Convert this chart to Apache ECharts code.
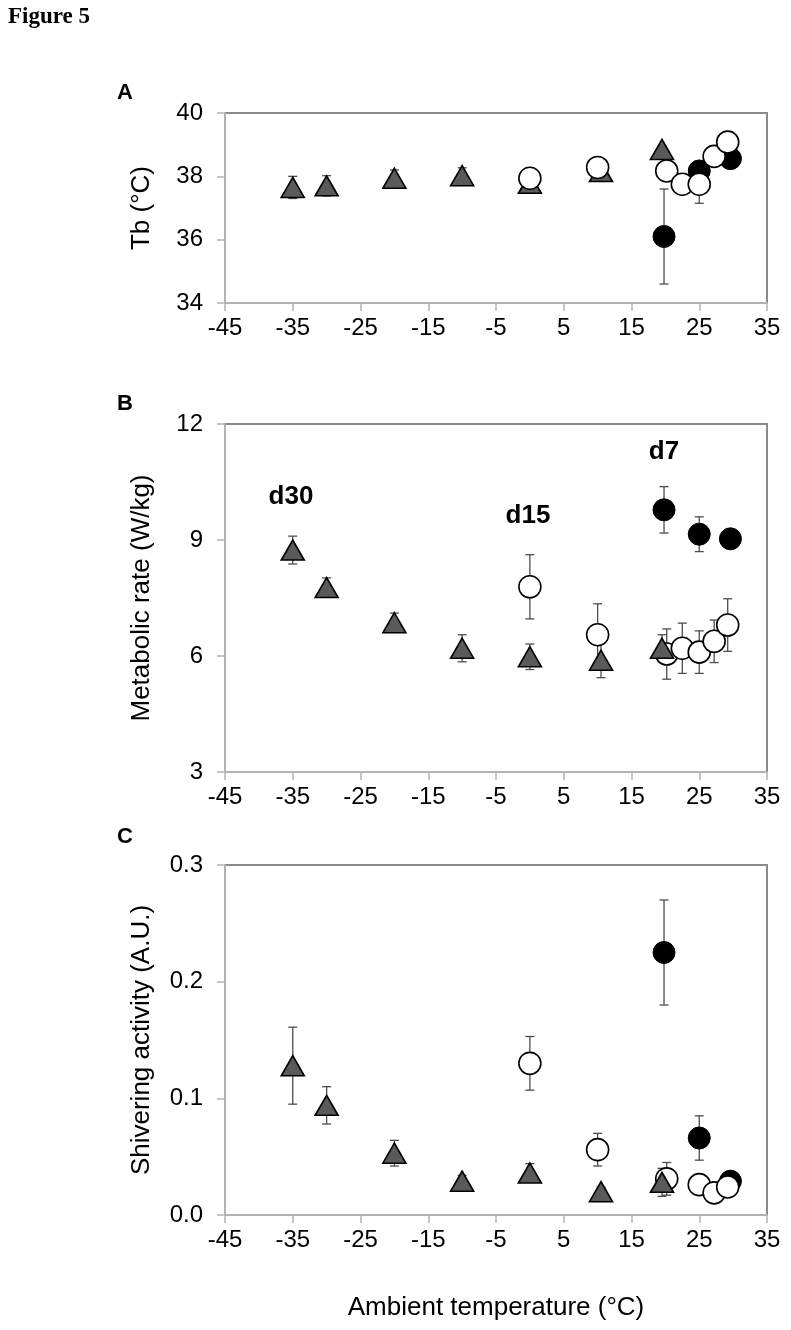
<!DOCTYPE html>
<html>
<head>
<meta charset="utf-8">
<script src="https://cdn.jsdelivr.net/npm/echarts@6/dist/echarts.min.js"></script>
<style>
html,body{margin:0;padding:0;background:#fff;}
#chart{width:791px;height:1330px;}
</style>
</head>
<body>
<div id="chart"></div>
<script>
// ---- data ----
var xTicks = [-45, -35, -25, -15, -5, 5, 15, 25, 35];
var d30Temp = [-35, -30, -20, -10, 0, 10.5, 19.5];
var d15Temp = [0, 10, 20.2, 22.5, 25, 27.2, 29.2];
var d7Temp  = [19.8, 25, 29.6];

// Panel A: body temperature (°C)
var tbD30 = [37.65, 37.70, 37.94, 38.02, 37.78, 38.15, 38.85];
var tbD30Err = [0.35, 0.32, 0.26, 0.25, 0.20, 0.15, 0.10];
var tbD15 = [37.94, 38.28, 38.17, 37.75, 37.75, 38.63, 39.08];
var tbD15Err = [0.10, 0.10, 0.15, 0.15, 0.60, 0.15, 0.10];
var tbD7 = [36.10, 38.17, 38.56];
var tbD7Err = [1.50, 0.15, 0.15];

// Panel B: metabolic rate (W/kg)
var mrD30 = [8.74, 7.77, 6.86, 6.20, 5.98, 5.89, 6.20];
var mrD30Err = [0.36, 0.25, 0.25, 0.35, 0.33, 0.45, 0.35];
var mrD15 = [7.79, 6.55, 6.05, 6.20, 6.10, 6.38, 6.80];
var mrD15Err = [0.83, 0.80, 0.65, 0.65, 0.55, 0.55, 0.68];
var mrD7 = [9.78, 9.15, 9.03];
var mrD7Err = [0.60, 0.45, 0.10];

// Panel C: shivering activity (A.U.)
var shD30 = [0.128, 0.094, 0.053, 0.029, 0.036, 0.020, 0.028];
var shD30Err = [0.033, 0.016, 0.011, 0.005, 0.008, 0.004, 0.012];
var shD15 = [0.130, 0.056, 0.031, null, 0.026, 0.019, 0.024];
var shD15Err = [0.023, 0.014, 0.014, null, 0.005, 0.004, 0.004];
var shD7 = [0.225, 0.066, 0.029];
var shD7Err = [0.045, 0.019, 0.003];

// ---- helpers ----
var FONT = '"Liberation Sans", Arial, sans-serif';
function pts(xs, ys) {
  var out = [];
  for (var i = 0; i < xs.length; i++) if (ys[i] != null) out.push([xs[i], ys[i]]);
  return out;
}
function errs(xs, ys, es) {
  var out = [];
  for (var i = 0; i < xs.length; i++) if (ys[i] != null && es[i] != null) out.push([xs[i], ys[i] - es[i], ys[i] + es[i]]);
  return out;
}
function errSeries(idx, data, z) {
  return {
    type: 'custom', xAxisIndex: idx, yAxisIndex: idx, z: z, silent: true,
    data: data,
    encode: {x: 0, y: [1, 2]},
    renderItem: function (params, api) {
      var x = api.value(0);
      var lo = api.coord([x, api.value(1)]);
      var hi = api.coord([x, api.value(2)]);
      var w = 4.5;
      var st = {stroke: '#4d4d4d', lineWidth: 1.3};
      return {type: 'group', children: [
        {type: 'line', shape: {x1: lo[0], y1: lo[1], x2: hi[0], y2: hi[1]}, style: st},
        {type: 'line', shape: {x1: lo[0] - w, y1: lo[1], x2: lo[0] + w, y2: lo[1]}, style: st},
        {type: 'line', shape: {x1: hi[0] - w, y1: hi[1], x2: hi[0] + w, y2: hi[1]}, style: st}
      ]};
    }
  };
}
var triStyle = {color: '#5a5a5a', borderColor: '#000', borderWidth: 1.6, opacity: 1};
var openStyle = {color: '#fff', borderColor: '#000', borderWidth: 1.6, opacity: 1};
var fillStyle = {color: '#000', borderColor: '#000', borderWidth: 1, opacity: 1};
function tri(idx, data, z) {
  return {type: 'scatter', xAxisIndex: idx, yAxisIndex: idx, z: z, symbol: 'triangle', symbolSize: [23, 20], itemStyle: triStyle, data: data};
}
function circ(idx, data, z, style) {
  return {type: 'scatter', xAxisIndex: idx, yAxisIndex: idx, z: z, symbol: 'circle', symbolSize: 22, itemStyle: style, data: data};
}

var grids = [
  {left: 225, right: 24, top: 113, height: 190},
  {left: 225, right: 24, top: 424, height: 348},
  {left: 225, right: 24, top: 865, height: 350}
];
grids.forEach(function (g) { g.show = true; g.borderColor = '#8a8a8a'; g.borderWidth = 2; g.backgroundColor = 'transparent'; });

function xAxis(idx, withName) {
  var a = {
    type: 'value', gridIndex: idx, min: xTicks[0], max: xTicks[xTicks.length - 1], interval: 10,
    axisLine: {show: true, onZero: false, lineStyle: {color: '#b3b3b3', width: 2}},
    axisTick: {show: true, length: 8, lineStyle: {color: '#b3b3b3', width: 1.5}},
    splitLine: {show: false},
    axisLabel: {color: '#000', fontFamily: FONT, fontSize: 24, margin: 13}
  };
  if (withName) {
    a.name = 'Ambient temperature (°C)';
    a.nameLocation = 'middle';
    a.nameGap = 80;
    a.nameTextStyle = {color: '#000', fontFamily: FONT, fontSize: 26};
  }
  return a;
}
function yAxis(idx, min, max, interval, name, fmt) {
  return {
    type: 'value', gridIndex: idx, min: min, max: max, interval: interval,
    name: name, nameLocation: 'middle', nameRotate: 90, nameGap: 70,
    nameTextStyle: {color: '#000', fontFamily: FONT, fontSize: 26},
    axisLine: {show: true, onZero: false, lineStyle: {color: '#b3b3b3', width: 2}},
    axisTick: {show: true, length: 8, lineStyle: {color: '#b3b3b3', width: 1.5}},
    splitLine: {show: false},
    axisLabel: {color: '#000', fontFamily: FONT, fontSize: 24, margin: 22, formatter: fmt}
  };
}

var option = {
  backgroundColor: '#fff',
  animation: false,
  grid: grids,
  xAxis: [xAxis(0, false), xAxis(1, false), xAxis(2, true)],
  yAxis: [
    yAxis(0, 34, 40, 2, 'Tb (°C)'),
    yAxis(1, 3, 12, 3, 'Metabolic rate (W/kg)'),
    yAxis(2, 0, 0.3, 0.1, 'Shivering activity (A.U.)', function (v) { return v.toFixed(1); })
  ],
  graphic: [
    {type: 'text', left: 8, top: 6, style: {text: 'Figure 5', font: 'bold 23px "Liberation Serif", "Times New Roman", serif', fill: '#000'}},
    {type: 'text', left: 117, top: 82, style: {text: 'A', font: 'bold 22px ' + FONT, fill: '#000'}},
    {type: 'text', left: 117, top: 393, style: {text: 'B', font: 'bold 22px ' + FONT, fill: '#000'}},
    {type: 'text', left: 117, top: 826, style: {text: 'C', font: 'bold 22px ' + FONT, fill: '#000'}},
    {type: 'text', x: 291, y: 497, style: {text: 'd30', font: 'bold 26px ' + FONT, fill: '#000', align: 'center', verticalAlign: 'middle'}},
    {type: 'text', x: 528, y: 516, style: {text: 'd15', font: 'bold 26px ' + FONT, fill: '#000', align: 'center', verticalAlign: 'middle'}},
    {type: 'text', x: 664, y: 452, style: {text: 'd7', font: 'bold 26px ' + FONT, fill: '#000', align: 'center', verticalAlign: 'middle'}}
  ],
  series: [
    // Panel A
    errSeries(0, errs(d30Temp, tbD30, tbD30Err), 1),
    errSeries(0, errs(d15Temp, tbD15, tbD15Err), 1),
    errSeries(0, errs(d7Temp, tbD7, tbD7Err), 1),
    circ(0, pts(d7Temp, tbD7), 2, fillStyle),
    tri(0, pts(d30Temp, tbD30), 3),
    circ(0, pts(d15Temp, tbD15), 4, openStyle),
    // Panel B
    errSeries(1, errs(d30Temp, mrD30, mrD30Err), 1),
    errSeries(1, errs(d15Temp, mrD15, mrD15Err), 1),
    errSeries(1, errs(d7Temp, mrD7, mrD7Err), 1),
    circ(1, pts(d7Temp, mrD7), 2, fillStyle),
    circ(1, pts(d15Temp, mrD15), 3, openStyle),
    tri(1, pts(d30Temp, mrD30), 4),
    // Panel C
    errSeries(2, errs(d30Temp, shD30, shD30Err), 1),
    errSeries(2, errs(d15Temp, shD15, shD15Err), 1),
    errSeries(2, errs(d7Temp, shD7, shD7Err), 1),
    circ(2, pts(d7Temp, shD7), 2, fillStyle),
    circ(2, pts(d15Temp, shD15), 3, openStyle),
    tri(2, pts(d30Temp, shD30), 4)
  ]
};
var chart = echarts.init(document.getElementById('chart'), null, {renderer: 'canvas'});
chart.setOption(option);
</script>
</body>
</html>
